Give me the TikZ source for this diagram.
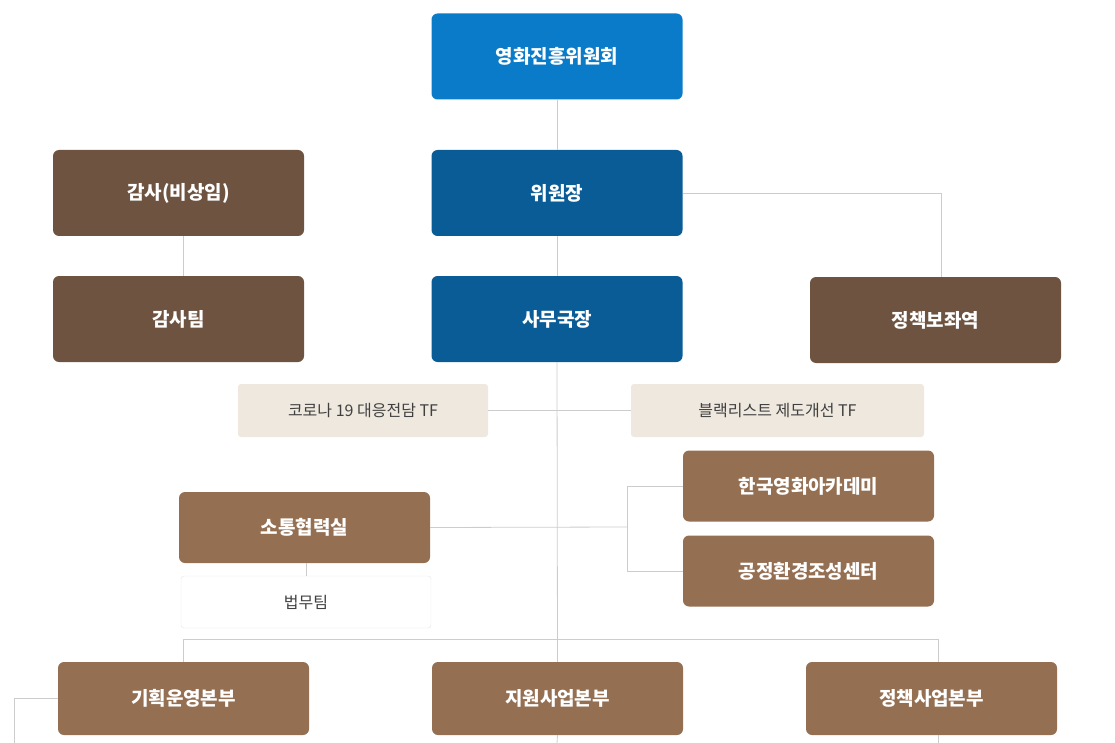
\documentclass[tikz,border=0pt]{standalone}
\usepackage{fontspec}
\setmainfont{Noto Sans CJK KR}
\definecolor{topblue}{HTML}{0A7BC8}
\definecolor{darkblue}{HTML}{0A5C96}
\definecolor{darkbrown}{HTML}{6E5340}
\definecolor{midbrown}{HTML}{946F52}
\definecolor{beige}{HTML}{EFE8DF}
\definecolor{linegray}{HTML}{CCCCCC}
\begin{document}
\begin{tikzpicture}%
	[x=1pt, y=-1pt,
	box/.style={rounded corners=6pt, minimum width=251pt, minimum height=86pt, font=\bfseries\fontsize{19}{22}\selectfont, text=white},
	blue/.style={box, fill=darkblue},
	top/.style={box, fill=topblue},
	audit/.style={box, fill=darkbrown},
	unit/.style={box, fill=midbrown, minimum height=71pt},
	tf/.style={rounded corners=3pt, fill=beige, minimum height=53pt, font=\fontsize{16}{19}\selectfont, text=black!75},
	team/.style={rounded corners=3pt, draw=black!10, fill=white, minimum width=250pt, minimum height=52pt, font=\fontsize{16}{19}\selectfont, text=black!75},
	link/.style={draw=linegray, line width=0.8pt}]
	%
	\useasboundingbox (0,0) rectangle (1115,743);
	%
	%% Top of the chart
	%%
	\node[top] (board) at (557,56.5) {영화진흥위원회};
	\node[blue] (chair) at (557,193) {위원장};
	\node[blue] (sec) at (557,319) {사무국장};
	\node[audit] (aud) at (178.5,193) {감사(비상임)};
	\node[audit] (audteam) at (178.5,319) {감사팀};
	\node[audit] (adv) at (935.5,320) {정책보좌역};
	%%
	%% Task forces and offices
	%%
	\node[tf, minimum width=250pt] (covid) at (363,410.5) {코로나 19 대응전담 TF};
	\node[tf, minimum width=293pt] (black) at (777.5,410.5) {블랙리스트 제도개선 TF};
	\node[unit] (acad) at (808.5,486) {한국영화아카데미};
	\node[unit] (fair) at (808.5,571) {공정환경조성센터};
	\node[unit] (comm) at (304.5,527.5) {소통협력실};
	\node[team] (law) at (306,602) {법무팀};
	%%
	%% Headquarters
	%%
	\node[unit, minimum height=73pt] (plan) at (183.5,698.5) {기획운영본부};
	\node[unit, minimum height=73pt] (supp) at (557.5,698.5) {지원사업본부};
	\node[unit, minimum height=73pt] (pol) at (931.5,698.5) {정책사업본부};
	%%
	%% Connectors
	%%
	\coordinate (bot) at (557,743);
	\coordinate (branch) at (627,527);
	\begin{scope}[on background layer/.style={}]
	\end{scope}
	\path[link] (board.south) -- (chair.north);
	\path[link] (chair.south) -- (sec.north);
	\path[link] (sec.south) -- (supp.north);
	\path[link] (supp.south) -- (bot);
	\path[link] (aud.south -| audteam) ++(4.5,0) -- ++(0,40);
	\path[link] (chair.east) -| (941,277);
	\path[link] (covid.east) -- (black.west);
	\path[link] (comm.east) -- (branch);
	\path[link] (acad.west) -| (branch) |- (fair.west);
	\path[link] (comm.south -| law) -- (law.north);
	\path[link] (183,662) |- (938,639) -- (938,662);
	\path[link] (plan.west) -| (14,743);
	\path[link] (938,735) -- (938,743);
\end{tikzpicture}
\end{document}
